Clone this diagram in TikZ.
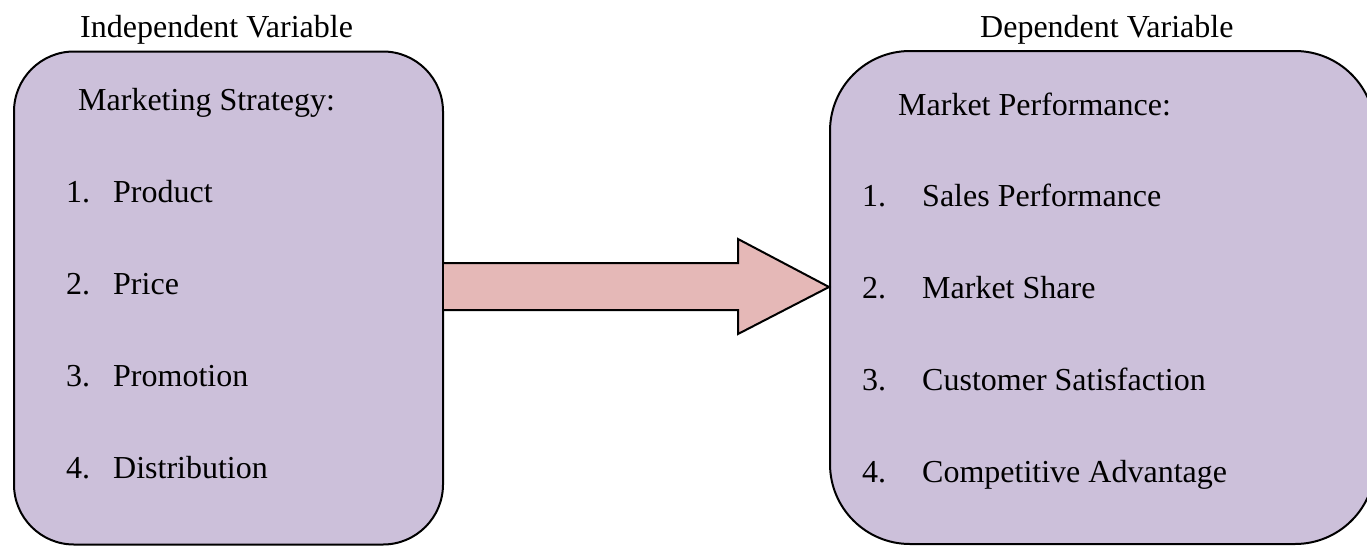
\documentclass[tikz,border=0pt]{standalone}
\usepackage{fontspec}
\setmainfont{Liberation Serif}
\definecolor{boxfill}{HTML}{CCC0DA}
\definecolor{arrowfill}{HTML}{E5B8B7}
\begin{document}
\begin{tikzpicture}[x=1pt,y=-1pt,
  txt/.style={anchor=base west,inner sep=0pt,font=\fontsize{32}{36}\selectfont},
  varbox/.style={draw=black,fill=boxfill,line width=2pt,inner sep=0pt},
  bigarrow/.style={draw=black,fill=arrowfill,line width=2pt,line join=miter}]
\useasboundingbox (0,0) rectangle (1367,546);
\clip (0,0) rectangle (1367,546);
% boxes
\node[varbox,rounded corners=60pt,minimum width=429pt,minimum height=493pt] (L) at (228.5,298) {};
\node[varbox,rounded corners=80pt,minimum width=545pt,minimum height=493pt] (R) at (1102.5,297.5) {};
% arrow
\coordinate (tip) at (R.west |- 0,287);
\draw[bigarrow] (L.east |- 0,263) -- (738,263) -- (738,239) -- (tip) -- (738,334) -- (738,310) -- (L.east |- 0,310);
% headings
\node[txt] (iv) at (80,37) {Independent Variable};
\node[txt] (dv) at (980,37) {Dependent Variable};
% left content
\node[txt] (ms) at (78,110) {Marketing Strategy:};
\node[txt] (n1) at (66,202) {1.};
\node[txt] (t1) at (113,202) {Product};
\node[txt] (n2) at (66,294) {2.};
\node[txt] (t2) at (113,294) {Price};
\node[txt] (n3) at (66,386) {3.};
\node[txt] (t3) at (113,386) {Promotion};
\node[txt] (n4) at (66,478) {4.};
\node[txt] (t4) at (113,478) {Distribution};
% right content
\node[txt] (mp) at (898,115) {Market Performance:};
\node[txt] (m1) at (862,206) {1.};
\node[txt] (s1) at (922,206) {Sales Performance};
\node[txt] (m2) at (862,298) {2.};
\node[txt] (s2) at (922,298) {Market Share};
\node[txt] (m3) at (862,390) {3.};
\node[txt] (s3) at (922,390) {Customer Satisfaction};
\node[txt] (m4) at (862,482) {4.};
\node[txt] (s4) at (922,482) {Competitive Advantage};
\end{tikzpicture}
\end{document}
